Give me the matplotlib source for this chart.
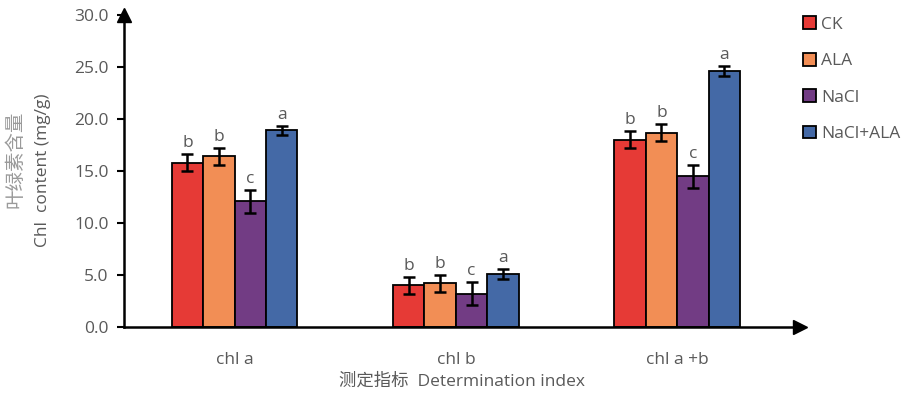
import numpy as np
import matplotlib.pyplot as plt

plt.rcParams['font.family'] = ['Open Sans', 'Noto Sans CJK SC', 'DejaVu Sans']

categories = ['chl a', 'chl b', 'chl a +b']
series = ['CK', 'ALA', 'NaCl', 'NaCl+ALA']
values = {
    'CK': [15.8, 4.0, 18.0],
    'ALA': [16.4, 4.2, 18.7],
    'NaCl': [12.1, 3.2, 14.5],
    'NaCl+ALA': [18.9, 5.1, 24.6],
}
errors = {
    'CK': [0.8, 0.8, 0.8],
    'ALA': [0.8, 0.8, 0.8],
    'NaCl': [1.1, 1.1, 1.1],
    'NaCl+ALA': [0.45, 0.5, 0.45],
}
letters = {
    'CK': ['b', 'b', 'b'],
    'ALA': ['b', 'b', 'b'],
    'NaCl': ['c', 'c', 'c'],
    'NaCl+ALA': ['a', 'a', 'a'],
}
colors = ['#E63A36', '#F28E55', '#723C84', '#4469A6']
grey = '#595959'

fig = plt.figure(figsize=(9.09, 3.97), dpi=100)
ax = fig.add_axes([0.1364, 0.1763, 0.7436, 0.786])

x = np.arange(len(categories))
w = 0.142
for i, s in enumerate(series):
    xs = x + (i - 1.5) * w
    ax.bar(xs, values[s], w, color=colors[i], edgecolor='black', linewidth=1.3,
           label=s, zorder=2)
    ax.errorbar(xs, values[s], yerr=errors[s], fmt='none', ecolor='black',
                elinewidth=1.8, capsize=4.5, capthick=1.8, zorder=3)
    for xi, v, e, t in zip(xs, values[s], errors[s], letters[s]):
        ax.text(xi, v + e + 0.3, t, ha='center', va='bottom', fontsize=12.5, color=grey)

ax.set_xlim(-0.5, 2.555)
ax.set_ylim(0, 30)
ax.set_yticks(np.arange(0, 31, 5))
ax.set_yticklabels([f'{v:.1f}' for v in np.arange(0, 31, 5)], fontsize=12.5, color=grey)
ax.set_xticks(x)
ax.set_xticklabels(categories, fontsize=12.5, color=grey)
ax.tick_params(axis='x', length=0, pad=18)
ax.tick_params(axis='y', length=5, width=1.5, direction='out', pad=6)

for sp in ['top', 'right']:
    ax.spines[sp].set_visible(False)
for sp in ['left', 'bottom']:
    ax.spines[sp].set_linewidth(1.8)

ax.plot(0, 1.0, marker='^', color='black', markersize=10, transform=ax.transAxes, clip_on=False)
ax.plot(1.0, 0, marker='>', color='black', markersize=10, transform=ax.transAxes, clip_on=False)

ax.set_xlabel('测定指标  Determination index', fontsize=12.5, color=grey, labelpad=4)
fig.text(0.017, 0.6, '叶绿素含量', rotation=90, ha='center', va='center', fontsize=14, color='#9a9a9a')
fig.text(0.047, 0.57, 'Chl  content (mg/g)', rotation=90, ha='center', va='center', fontsize=12.5, color=grey)

handles, labels = ax.get_legend_handles_labels()
leg = fig.legend(handles, labels, loc='upper left', bbox_to_anchor=(0.866, 0.998), frameon=False,
                 fontsize=12.5, handlelength=0.75, handleheight=0.75, handletextpad=0.3,
                 labelspacing=1.15)
for t in leg.get_texts():
    t.set_color(grey)

fig.savefig('out.png', dpi=100)
